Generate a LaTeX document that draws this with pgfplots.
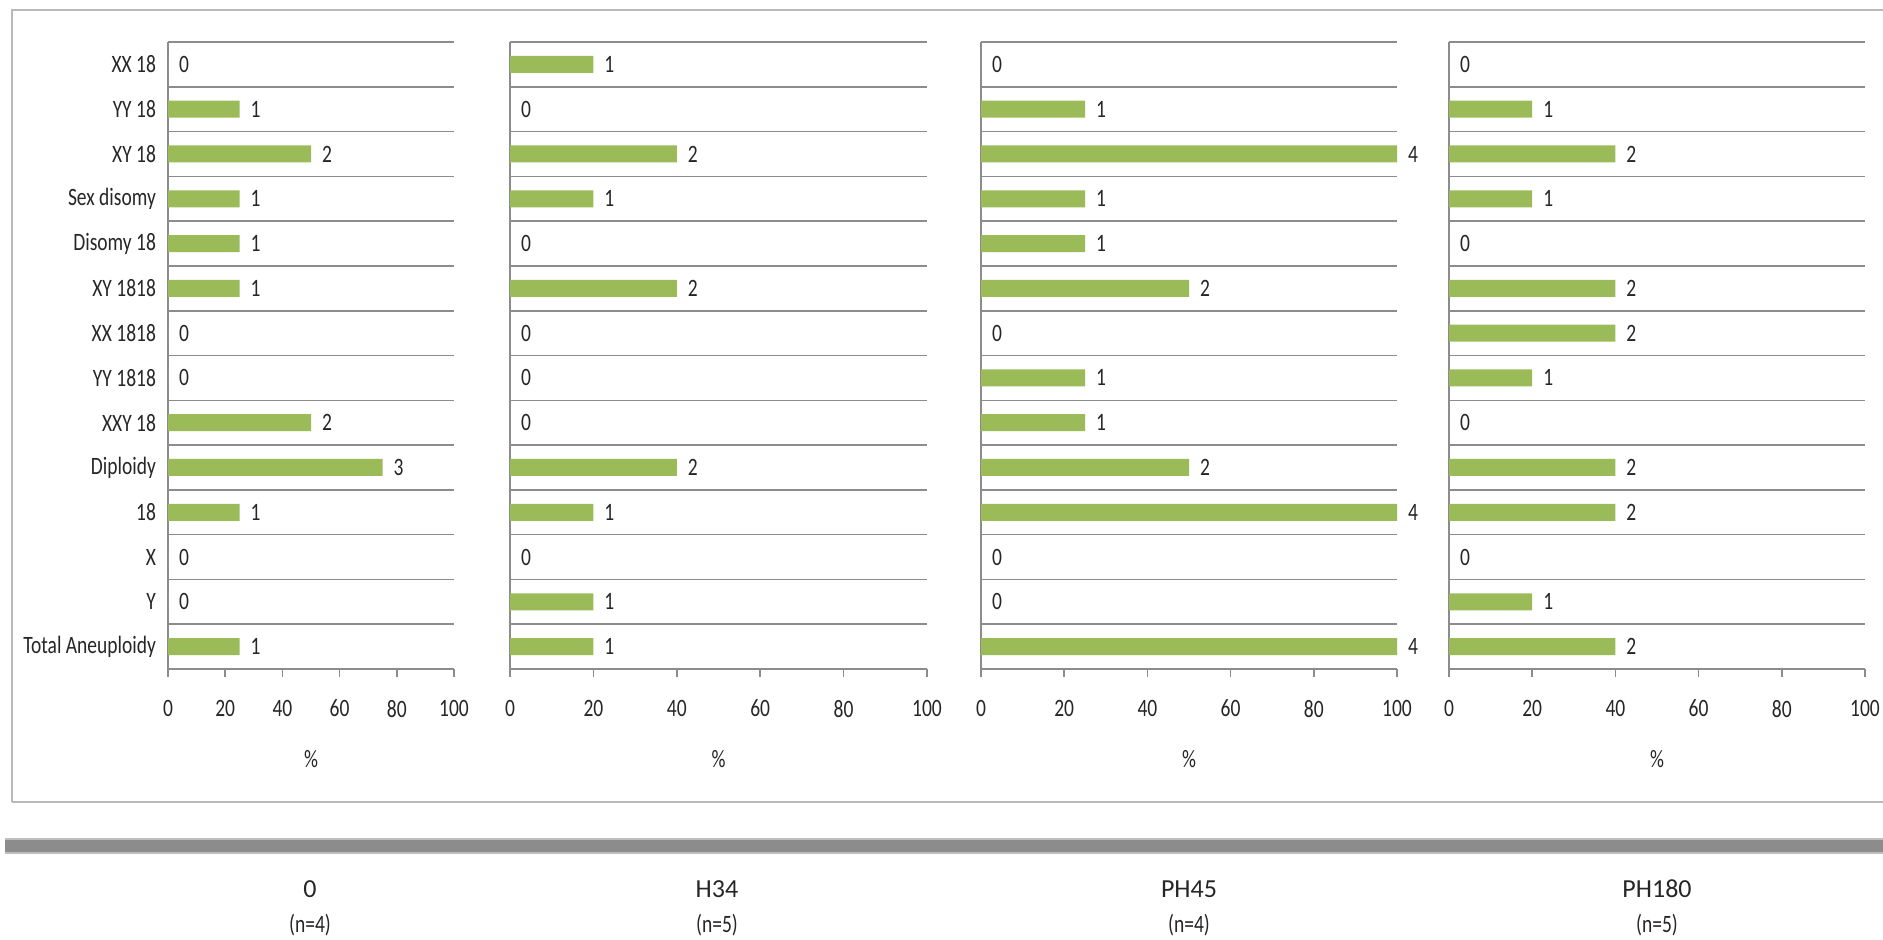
\documentclass[border=0pt]{standalone}
\usepackage{fontspec}
\setmainfont{Carlito}[FakeStretch=0.78]
\newfontfamily\grpfont{Carlito}
\usepackage{pgfplots}
\usepackage{pgfplotstable}
\pgfplotsset{compat=1.18}
\definecolor{bargreen}{HTML}{9BBB59}
\definecolor{gridgray}{HTML}{8C8C8C}

% idx: 13 = XX 18 (top) ... 0 = Total Aneuploidy (bottom)
\pgfplotstableread{
idx pct cnt
13 0 0
12 25 1
11 50 2
10 25 1
9 25 1
8 25 1
7 0 0
6 0 0
5 50 2
4 75 3
3 25 1
2 0 0
1 0 0
0 25 1
}\tabA
\pgfplotstableread{
idx pct cnt
13 20 1
12 0 0
11 40 2
10 20 1
9 0 0
8 40 2
7 0 0
6 0 0
5 0 0
4 40 2
3 20 1
2 0 0
1 20 1
0 20 1
}\tabB
\pgfplotstableread{
idx pct cnt
13 0 0
12 25 1
11 100 4
10 25 1
9 25 1
8 50 2
7 0 0
6 25 1
5 25 1
4 50 2
3 100 4
2 0 0
1 0 0
0 100 4
}\tabC
\pgfplotstableread{
idx pct cnt
13 0 0
12 20 1
11 40 2
10 20 1
9 0 0
8 40 2
7 40 2
6 20 1
5 0 0
4 40 2
3 40 2
2 0 0
1 20 1
0 40 2
}\tabD

\pgfplotsset{
  panel/.style={
    scale only axis,
    height=313.5pt,
    anchor=south west,
    xbar, bar width=8.5pt, bar shift=0pt,
    xmin=0, xmax=100,
    ymin=-0.5, ymax=13.5,
    xtick={0,20,...,100},
    ytick={0,...,13},
    axis lines*=left,
    axis line style={-, draw=gridgray, line width=0.6pt},
    x axis line style={line width=0.8pt},
    tick align=outside,
    xtick style={draw=gridgray, line width=0.8pt},
    major tick length=4pt,
    ytick style={draw=none},
    extra y ticks={-0.5,0.5,...,13.5},
    extra y tick labels={},
    extra y tick style={grid=major, major grid style={draw=gridgray, line width=0.8pt}, tick style={draw=gridgray, line width=0.8pt}, major tick length=3pt},
    /pgf/number format/assume math mode=true,
    tick label style={font=\fontsize{12.5}{14}\selectfont, text=black!85},
    x tick label style={yshift=-8pt},
    y tick label style={xshift=1.5pt},
    xlabel={\%},
    xlabel style={at={(axis description cs:0.5,0)}, anchor=center, yshift=-45pt, font=\fontsize{12.5}{14}\selectfont, text=black!85},
    nodes near coords,
    point meta=explicit symbolic,
    every node near coord/.append style={font=\fontsize{12.5}{14}\selectfont, text=black!85, anchor=west, xshift=2pt},
  },
}

\begin{document}
\begin{tikzpicture}[x=0.5pt,y=-0.5pt]
\useasboundingbox (0,0) rectangle (1883,939);
% outer frame
\draw[gray!55, line width=1.2pt] (12,802) -- (12,10) -- (1883,10);
\draw[gray!55, line width=1.2pt] (12,802) -- (1883,802);
% thick separator bar
\fill[gray!90] (5,840) rectangle (1883,852);
\draw[gray!50, line width=1pt] (5,839) -- (1883,839);
\draw[gray!50, line width=1pt] (5,853) -- (1883,853);

\begin{axis}[panel, at={(84pt,-334.5pt)}, width=143pt,
  yticklabels={Total Aneuploidy,Y,X,18,Diploidy,XXY 18,YY 1818,XX 1818,XY 1818,Disomy 18,Sex disomy,XY 18,YY 18,XX 18}]
\addplot[fill=bargreen, draw=none] table[x=pct, y=idx, meta=cnt] {\tabA};
\end{axis}
\begin{axis}[panel, at={(255pt,-334.5pt)}, width=208.5pt, yticklabels={}]
\addplot[fill=bargreen, draw=none] table[x=pct, y=idx, meta=cnt] {\tabB};
\end{axis}
\begin{axis}[panel, at={(490.5pt,-334.5pt)}, width=208pt, yticklabels={}]
\addplot[fill=bargreen, draw=none] table[x=pct, y=idx, meta=cnt] {\tabC};
\end{axis}
\begin{axis}[panel, at={(724.5pt,-334.5pt)}, width=208pt, yticklabels={}]
\addplot[fill=bargreen, draw=none] table[x=pct, y=idx, meta=cnt] {\tabD};
\end{axis}

% group labels
\foreach \xx/\nm/\nn in {310/0/4, 717/H34/5, 1189/PH45/4, 1657/PH180/5}{
  \node[font=\grpfont\fontsize{13}{15}\selectfont, text=black!85] at (\xx,889) {\nm};
  \node[font=\fontsize{12.5}{14}\selectfont, text=black!85] at (\xx,925) {(n=\nn)};
}
\end{tikzpicture}
\end{document}
